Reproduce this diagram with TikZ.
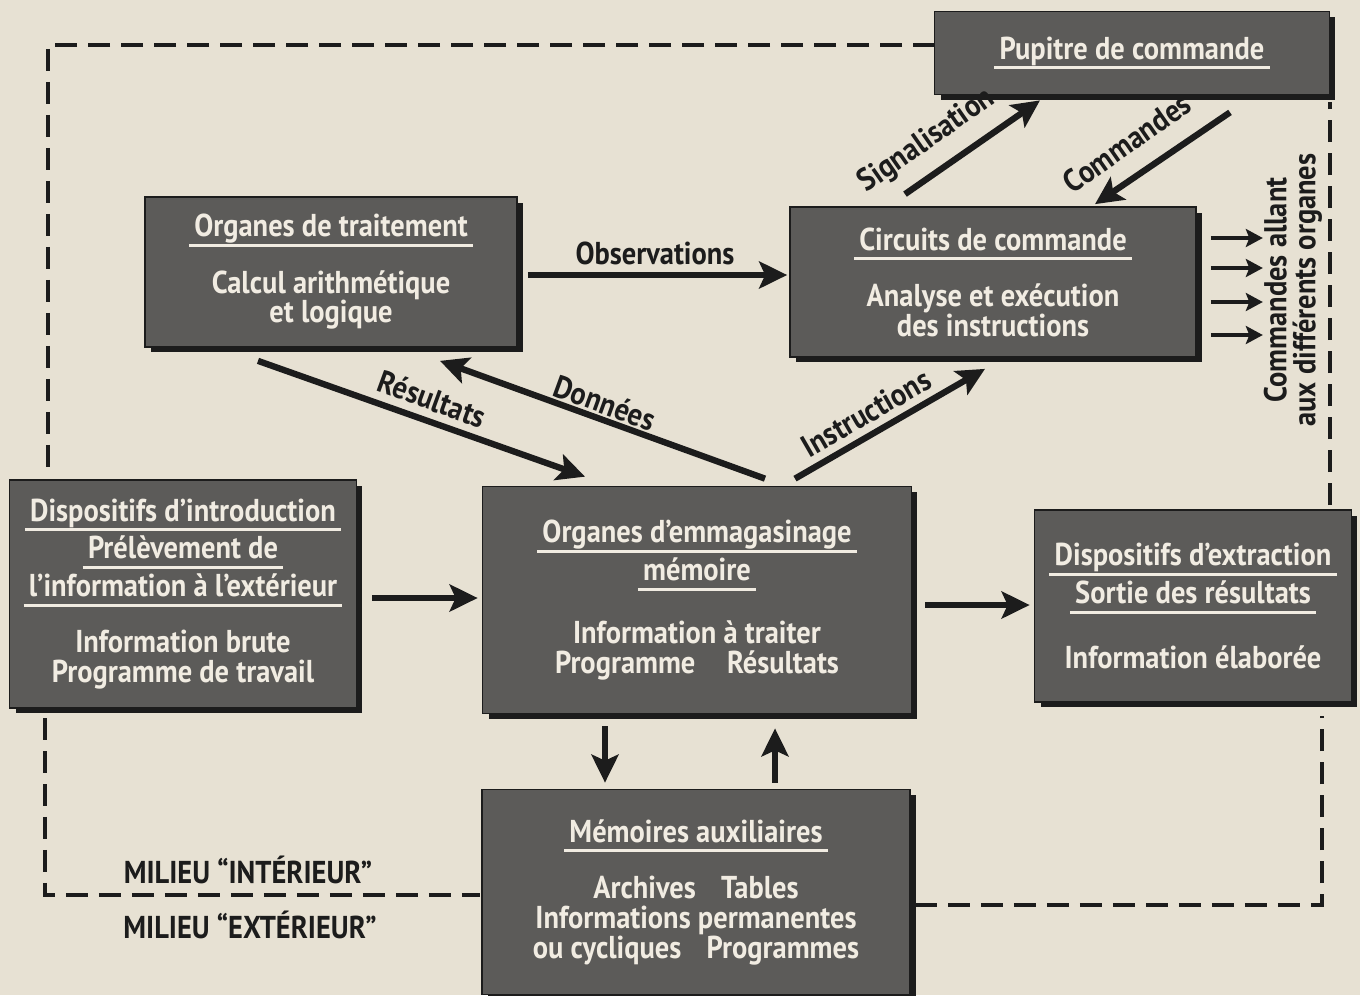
\documentclass[tikz,border=0pt]{standalone}
\usepackage{fontspec}
\setmainfont{PT Sans}[FakeStretch=0.9]
\usetikzlibrary{arrows.meta,shadows,calc}
\definecolor{paper}{HTML}{E7E1D3}
\definecolor{boxg}{HTML}{5C5B59}
\definecolor{ink}{HTML}{1C1C1C}
\definecolor{cream}{HTML}{F1ECE2}
\newcommand\titl[1]{\setbox0=\hbox{#1}\dp0=0pt\vtop{\offinterlineskip\copy0\kern4.2pt\hbox to \wd0{\hss\vrule width\dimexpr\wd0+6pt\relax height 1.7pt depth 0pt\hss}}}
\newcommand\tightlines{\lineskiplimit-100pt\relax}
\tikzset{
  blk/.style={draw=ink, line width=1pt, fill=boxg, text=cream, align=center,
    font={\bfseries\fontsize{18}{17}\selectfont\tightlines}, inner sep=0pt,
    drop shadow={shadow xshift=0.12cm, shadow yshift=-0.11cm, opacity=1, fill=ink}},
  arr/.style={draw=ink, line width=3.6pt, -{Stealth[length=0.56cm,width=0.54cm,inset=0.12cm]}},
  sarr/.style={draw=ink, line width=2.8pt, -{Stealth[length=0.34cm,width=0.36cm,inset=0.07cm]}},
  lbl/.style={text=ink, font={\bfseries\fontsize{18}{17}\selectfont}, inner sep=0pt},
  bord/.style={draw=ink, line width=1.8pt, dash pattern=on 0.44cm off 0.22cm}
}
\begin{document}
\begin{tikzpicture}[x=0.02cm,y=-0.02cm]
\fill[paper] (0,0) rectangle (1360,995);
\useasboundingbox (0,0) rectangle (1360,995);

% boundary between milieu interieur and exterieur
\draw[bord] (935,45) -- (48,45) -- (48,472);
\draw[bord] (45,718) -- (45,895) -- (480,895);
\draw[bord] (915,905) -- (1322,905) -- (1322,716);
\draw[bord] (1330,505) -- (1330,102);

% boxes
\node[blk, minimum width=7.9cm, minimum height=1.66cm] (pup) at (1132,53) {\titl{Pupitre de commande}};
\node[blk, minimum width=7.44cm, minimum height=3.0cm] (trait) at (331,272)
  {\titl{Organes de traitement}\\[15pt] Calcul arithmétique\\ et logique};
\node[blk, minimum width=8.12cm, minimum height=3.0cm] (circ) at (993,282)
  {\titl{Circuits de commande}\\[15pt] Analyse et exécution\\ des instructions};
\node[blk, minimum width=6.94cm, minimum height=4.56cm] (intro) at (183,594)
  {\titl{Dispositifs d’introduction}\\[4.5pt] \titl{Prélèvement de}\\[4.5pt] \titl{l’information à l’extérieur}\\[15pt] Information brute\\ Programme de travail};
\node[blk, minimum width=8.58cm, minimum height=4.54cm] (emm) at (697,600)
  {\titl{Organes d’emmagasinage}\\[4.5pt] \titl{mémoire}\\[19pt] Information à traiter\\ Programme\hspace{1em}Résultats};
\node[blk, minimum width=6.34cm, minimum height=3.84cm] (extr) at (1193,606)
  {\titl{Dispositifs d’extraction}\\[4.5pt] \titl{Sortie des résultats}\\[20pt] Information élaborée};
\node[blk, minimum width=8.56cm, minimum height=4.1cm] (aux) at (696,892)
  {\titl{Mémoires auxiliaires}\\[15pt] Archives\hspace{0.8em}Tables\\ Informations permanentes\\ ou cycliques\hspace{0.8em}Programmes};

% connectors
\draw[arr] ($(trait.east)+(10,3)$) -- ($(circ.west)+(-2,-7)$);
\draw[arr] ($(trait.south)+(-73,13)$) -- ($(emm.north)+(-112,-9)$);
\draw[arr] ($(emm.north)+(68,-7)$) -- ($(trait.south)+(109,13)$);
\draw[arr] ($(emm.north)+(98,-7)$) -- ($(circ.south)+(-8,11)$);
\draw[arr] ($(circ.north)+(-88,-12)$) -- ($(pup.south)+(-92,5)$);
\draw[arr] ($(pup.south)+(98,17)$) -- ($(circ.north)+(102,-2)$);
\draw[arr] ($(intro.east)+(15,4)$) -- ($(emm.west)+(-4,-2)$);
\draw[arr] ($(emm.east)+(13,5)$) -- ($(extr.west)+(-4,-1)$);
\draw[arr] ($(emm.south)+(-92,12)$) -- ($(aux.north)+(-91,-6)$);
\draw[arr] ($(aux.north)+(79,-6)$) -- ($(emm.south)+(78,14)$);
\foreach \dy/\nm in {-44/c1,-14/c2,20/c3,53/c4}{
  \coordinate (\nm) at ($(circ.east)+(66,\dy)$);
  \draw[sarr] ($(circ.east)+(14,\dy)$) -- (\nm);
}

% labels
\node[lbl] (lobs) at (655,253) {Observations};
\node[lbl, rotate=-20] (lres) at (432,399) {Résultats};
\node[lbl, rotate=-20] (ldon) at (605,403) {Données};
\node[lbl, rotate=30] (lins) at (866,413) {Instructions};
\node[lbl, rotate=35] (lsig) at (927,141) {Signalisation};
\node[lbl, rotate=35] (lcom) at (1127,143) {Commandes};
\node[lbl, rotate=90, align=center, font={\bfseries\fontsize{18}{16.5}\selectfont\tightlines}] (lcmd) at (1293,290) {Commandes allant\\aux différents organes};
\node[lbl] (lint) at (248,870) {MILIEU “INTÉRIEUR”};
\node[lbl] (lext) at (250,925) {MILIEU “EXTÉRIEUR”};
\end{tikzpicture}
\end{document}
